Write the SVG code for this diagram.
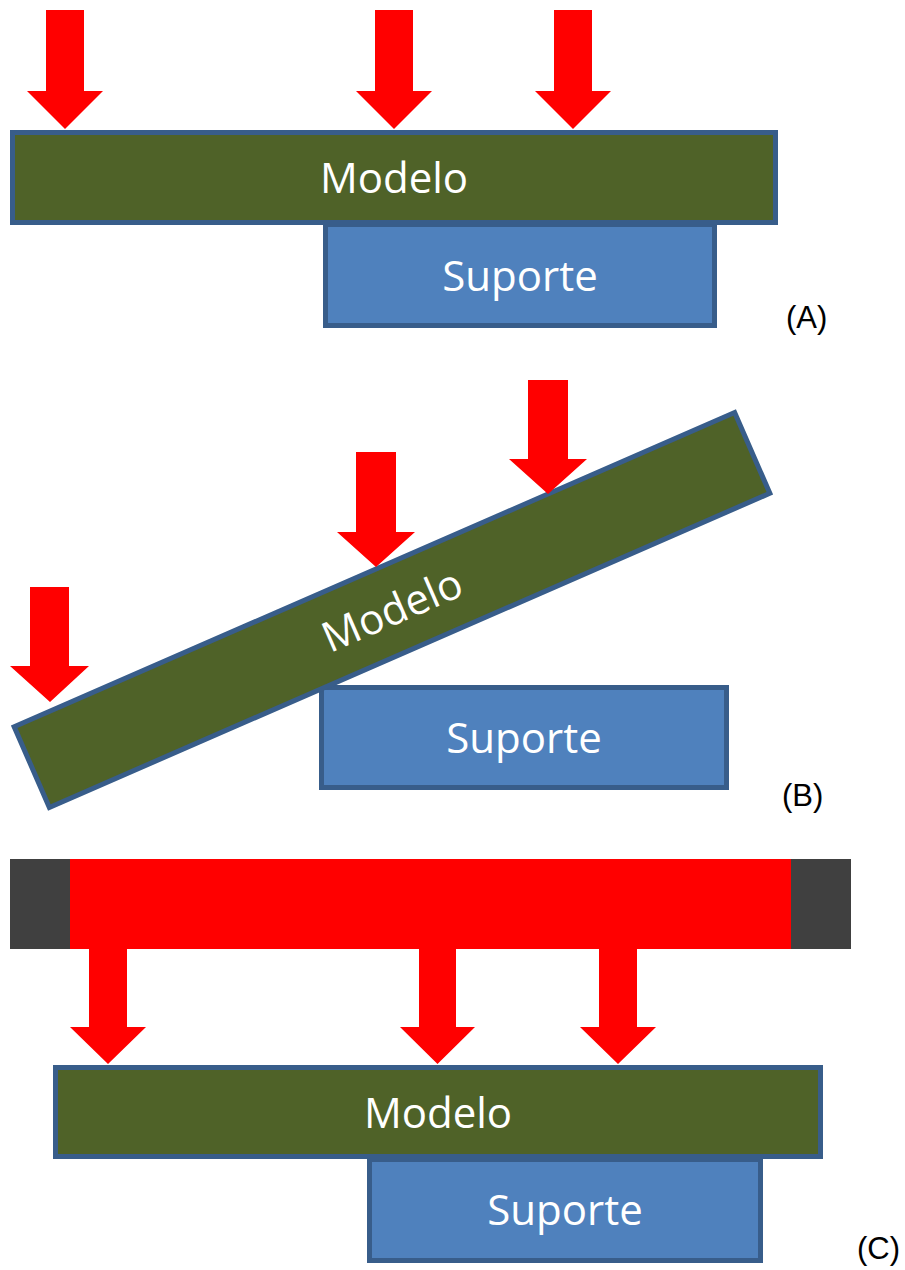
<svg xmlns="http://www.w3.org/2000/svg" width="905" height="1270" viewBox="0 0 905 1270">
  <style>
    .modelo { fill: #4F6228; stroke: #385D8A; stroke-width: 5; }
    .suporte { fill: #4F81BD; stroke: #385D8A; stroke-width: 5; }
    .force { fill: #FF0000; }
    .wt { fill: #FFFFFF; font-family: "Open Sans", "Noto Sans", sans-serif; font-size: 42px; text-anchor: middle; }
    .lbl { fill: #000000; font-family: "Liberation Sans", Arial, sans-serif; font-size: 31px; }
  </style>
  <rect width="905" height="1270" fill="#FFFFFF"/>

  <!-- Panel A -->
  <g id="suporte-a">
    <rect class="suporte" x="325.5" y="224.5" width="389" height="101"/>
    <text class="wt" x="520" y="291">Suporte</text>
  </g>
  <g id="modelo-a">
    <rect class="modelo" x="12.5" y="132.5" width="763" height="90"/>
    <text class="wt" x="394" y="193">Modelo</text>
  </g>
  <text id="label-a" class="lbl" x="786" y="328">(A)</text>

  <!-- Panel B -->
  <g id="suporte-b">
    <rect class="suporte" x="321.5" y="687.5" width="405" height="100"/>
    <text class="wt" x="524" y="753">Suporte</text>
  </g>
  <g id="modelo-b" transform="translate(392,610) rotate(-23.56)">
    <rect class="modelo" x="-393" y="-44" width="786" height="88"/>
    <text class="wt" x="0" y="15">Modelo</text>
  </g>
  <text id="label-b" class="lbl" x="782" y="806">(B)</text>

  <!-- Panel C -->
  <g id="prensa-c">
    <rect x="10" y="859" width="60" height="90" fill="#404040"/>
    <rect x="70" y="859" width="721" height="90" fill="#FF0000"/>
    <rect x="791" y="859" width="60" height="90" fill="#404040"/>
  </g>
  <g id="suporte-c">
    <rect class="suporte" x="369.5" y="1159.5" width="391" height="101"/>
    <text class="wt" x="565" y="1225">Suporte</text>
  </g>
  <g id="modelo-c">
    <rect class="modelo" x="55.5" y="1067.5" width="765" height="89"/>
    <text class="wt" x="438" y="1128">Modelo</text>
  </g>
  <text id="label-c" class="lbl" x="857" y="1259">(C)</text>

  <!-- Force arrows -->
  <g id="connectors">
    <polygon class="force" points="46,10 84,10 84,91 103,91 65,129 27,91 46,91"/>
    <polygon class="force" points="375,10 413,10 413,91 432,91 394,129 356,91 375,91"/>
    <polygon class="force" points="554,10 592,10 592,91 611,91 573,129 535,91 554,91"/>

    <polygon class="force" points="30,587 69,587 69,666 89,666 50,702 10,666 30,666"/>
    <polygon class="force" points="356,452 396,452 396,532 415,532 376,567 337,532 356,532"/>
    <polygon class="force" points="528,380 568,380 568,459 587,459 548,494 509,459 528,459"/>

    <polygon class="force" points="89,948 127,948 127,1027 146,1027 108,1064 70,1027 89,1027"/>
    <polygon class="force" points="419,948 456,948 456,1027 475,1027 437.5,1064 400,1027 419,1027"/>
    <polygon class="force" points="599,948 637,948 637,1027 656,1027 618,1064 580,1027 599,1027"/>
  </g>
</svg>
